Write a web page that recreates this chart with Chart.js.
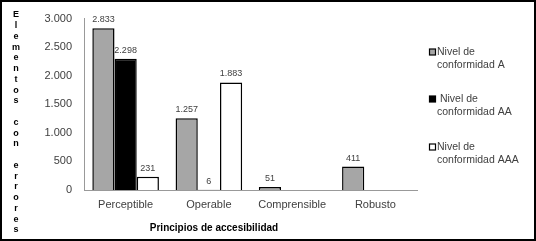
<!DOCTYPE html>
<html>
<head>
<meta charset="utf-8">
<script src="https://cdn.jsdelivr.net/npm/chart.js@4"></script>
<style>
  html, body { margin: 0; padding: 0; background: #fff; }
  #wrap { width: 536px; height: 241px; }
</style>
</head>
<body>
<div id="wrap"><canvas id="c" width="536" height="241"></canvas></div>
<script>
const categories = ["Perceptible", "Operable", "Comprensible", "Robusto"];
const seriesNames = [["Nivel de", "conformidad A"], [" Nivel de", "conformidad AA"], ["Nivel de", "conformidad AAA"]];
const nivelA = [2833, 1257, 51, 411];
const nivelAA = [2298, 6, null, null];
const nivelAAA = [231, 1883, null, null];
const yTitle = "Elementos con errores";
const xTitle = "Principios de accesibilidad";

const fills = ["#a6a6a6", "#000000", "#ffffff"];

function fmt(v) {
  return String(v).replace(/\B(?=(\d{3})+(?!\d))/g, ".");
}

// value labels above bars
const valueLabels = {
  id: "valueLabels",
  afterDatasetsDraw(chart) {
    const ctx = chart.ctx;
    ctx.save();
    ctx.font = "9px 'Liberation Sans', Arial";
    ctx.fillStyle = "#404040";
    ctx.textAlign = "center";
    ctx.textBaseline = "bottom";
    chart.data.datasets.forEach((ds, i) => {
      chart.getDatasetMeta(i).data.forEach((bar, j) => {
        if (ds.data[j] == null) return;
        ctx.fillText(fmt(ds.data[j]), bar.x, bar.y - 4);
      });
    });
    ctx.restore();
  }
};

// stacked y title, x title, legend, frame
const extras = {
  id: "extras",
  afterDraw(chart) {
    const ctx = chart.ctx;
    ctx.save();
    // y title, one letter per line
    ctx.font = "bold 9px 'Liberation Sans', Arial";
    ctx.fillStyle = "#000";
    ctx.textAlign = "center";
    ctx.textBaseline = "middle";
    const chars = yTitle.split("");
    const step = (230 - 15) / (chars.length - 1);
    chars.forEach((ch, i) => ctx.fillText(ch, 16, 15 + i * step));

    // x title
    ctx.font = "bold 10px 'Liberation Sans', Arial";
    ctx.fillText(xTitle, 214, 228);

    // legend
    ctx.font = "10.5px 'Liberation Sans', Arial";
    ctx.textAlign = "left";
    const tops = [52, 99, 147];
    chart.data.datasets.forEach((ds, i) => {
      const y = tops[i];
      ctx.fillStyle = ds.backgroundColor;
      ctx.fillRect(429.5, y - 3, 6, 6);
      ctx.strokeStyle = "#000";
      ctx.lineWidth = 1.2;
      ctx.strokeRect(429.5, y - 3, 6, 6);
      ctx.fillStyle = "#404040";
      ctx.fillText(seriesNames[i][0], 437, y);
      ctx.fillText(seriesNames[i][1], 437, y + 13);
    });

    // outer frame
    ctx.strokeStyle = "#000";
    ctx.lineWidth = 2;
    ctx.strokeRect(1, 1, 534, 239);
    ctx.restore();
  }
};

const data = [nivelA, nivelAA, nivelAAA];

new Chart(document.getElementById("c"), {
  type: "bar",
  data: {
    labels: categories,
    datasets: data.map((d, i) => ({
      label: seriesNames[i].join(" "),
      data: d,
      backgroundColor: fills[i],
      borderColor: "#000",
      borderWidth: 1.5,
      categoryPercentage: 0.8,
      barPercentage: 1.0,
    })),
  },
  options: {
    responsive: false,
    animation: false,
    layout: { padding: { left: 0, right: 119, top: 17, bottom: 0 } },
    plugins: {
      legend: { display: false },
      tooltip: { enabled: false },
    },
    scales: {
      x: {
        grid: { display: false, drawTicks: false },
        border: { color: "#999", width: 1 },
        ticks: {
          color: "#404040",
          font: { family: "'Liberation Sans', Arial", size: 11 },
          padding: 8,
        },
        afterFit(s) { s.height = 51; },
      },
      y: {
        min: 0,
        max: 3000,
        grid: { display: false, drawTicks: false },
        border: { color: "#999", width: 1 },
        ticks: {
          stepSize: 500,
          color: "#404040",
          font: { family: "'Liberation Sans', Arial", size: 11 },
          padding: 12,
          callback: (v) => fmt(v),
        },
        afterFit(s) { s.width = 84; },
      },
    },
  },
  plugins: [valueLabels, extras],
});
</script>
</body>
</html>
